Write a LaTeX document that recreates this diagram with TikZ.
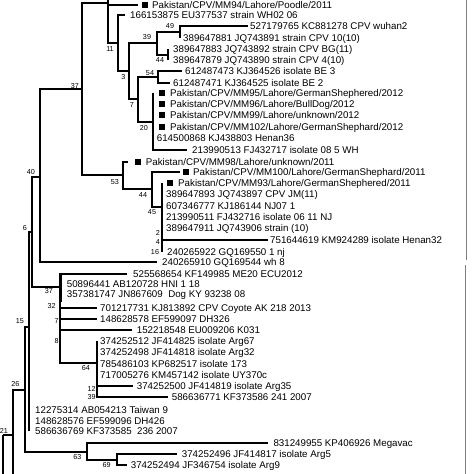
\documentclass[tikz,border=0pt]{standalone}
\usepackage{fontspec}
\setmainfont{Liberation Sans}
\usetikzlibrary{calc}
\newcommand\lf[6]{%
  \coordinate (#1) at (#3,#4);
  \draw[br] (#2) |- (#1);
  \node[tx] (#1t) at (#5,#4+3.5) {#6};}
\newcommand\lfs[7]{%
  \coordinate (#1) at (#3,#4);
  \draw[br] (#2) |- (#1);
  \node[sqn] (#1s) at (#5+3,#4) {};
  \node[tx] (#1t) at (#6,#4+3.5) {#7};}
\newcommand\bsl[4]{\node[bs] (#1) at (#2,#3+2.5) {#4};}
\begin{document}
\begin{tikzpicture}[x=1pt,y=-1pt,
  br/.style={line width=2pt},
  tx/.style={anchor=base west, inner sep=0pt, font=\fontsize{9.75}{11}\selectfont},
  bs/.style={anchor=base, inner sep=0pt, font=\fontsize{7.2}{8}\selectfont},
  sqn/.style={fill=black, inner sep=0pt, minimum size=6pt, rectangle}]
\useasboundingbox (0,0) rectangle (474,474);
\fill[white] (0,0) rectangle (474,474);
\clip (0,0) rectangle (474,474);
% internal nodes
\coordinate (r) at (3.3,435);
\coordinate (n21) at (13.3,435);
\coordinate (n26) at (25,390);
\coordinate (n15) at (29,326.7);
\coordinate (n6) at (32,232);
\coordinate (n40) at (40,177);
\coordinate (n37a) at (82,89);
\coordinate (nA) at (108,3);
\coordinate (nB) at (118,42.7);
\coordinate (nC) at (129,70.7);
\coordinate (n39) at (157,42.7);
\coordinate (n49) at (180,31.7);
\coordinate (n44a) at (168,55);
\coordinate (n7) at (138,99);
\coordinate (n54) at (158,76.7);
\coordinate (n20) at (153,121.7);
\coordinate (n53) at (123,175);
\coordinate (n44b) at (152,189);
\coordinate (n45) at (162,206.7);
\coordinate (n37b) at (60,287);
\coordinate (n64) at (96.7,363.3);
\coordinate (n63) at (87.3,451.7);
\coordinate (n69) at (116.7,459.5);
% edges between internal nodes
\draw[br] (r) -- (3.3,490);
\draw[br] (r) -- (n21);
\draw[br] (n21) -- (13.3,490);
\draw[br] (n21) |- (n26);
\draw[br] (n26) |- (n15);
\draw[br] (n26) |- (n63);
\draw[br] (n15) |- (n6);
\draw[br] (n6) |- (n40);
\draw[br] (n6) |- (n37b);
\draw[br] (n40) |- (n37a);
\draw[br] (n37a) |- (nA);
\draw[br] (nA) -- (108,-40);
\draw[br] (n37a) |- (n53);
\draw[br] (nA) |- (nB);
\draw[br] (nB) |- (nC);
\draw[br] (nC) |- (n39);
\draw[br] (nC) |- (n7);
\draw[br] (n39) |- (n49);
\draw[br] (n39) |- (n44a);
\draw[br] (n7) |- (n54);
\draw[br] (n7) |- (n20);
\draw[br] (n53) |- (n44b);
\draw[br] (n44b) |- (n45);
\draw[br] (n37b) |- (n64);
\draw[br] (61.3,274.3) -- (61.3,302);
\draw[br] (n63) |- (n69);
% leaves
\lfs{l1}{nA}{138}{4.7}{142}{152}{Pakistan/CPV/MM94/Lahore/Poodle/2011}
\lf{l2}{nB}{125}{14.7}{130}{166153875 EU377537 strain WH02 06}
\lf{l3}{n49}{248}{25.7}{250}{527179765 KC881278 CPV wuhan2}
\lf{l4}{n49}{180}{37.7}{183}{389647881 JQ743891 strain CPV 10(10)}
\lf{l5}{n44a}{168}{48.7}{173}{389647883 JQ743892 strain CPV BG(11)}
\lf{l6}{n44a}{168}{60}{173}{389647879 JQ743890 strain CPV 4(10)}
\lf{l7}{n54}{182}{70.7}{185}{612487473 KJ364526 isolate BE 3}
\lf{l8}{n54}{170}{83.3}{173}{612487471 KJ364525 isolate BE 2}
\lfs{l9}{n20}{153}{93.3}{159}{170}{Pakistan/CPV/MM95/Lahore/GermanShephered/2012}
\lfs{l10}{n20}{153}{104.3}{159}{170}{Pakistan/CPV/MM96/Lahore/BullDog/2012}
\lfs{l11}{n20}{153}{115}{159}{170}{Pakistan/CPV/MM99/Lahore/unknown/2012}
\lfs{l12}{n20}{153}{126.7}{159}{170}{Pakistan/CPV/MM102/Lahore/GermanShephard/2012}
\lf{l13}{n20}{153}{138.3}{156.7}{614500868 KJ438803 Henan36}
\lf{l14}{n20}{187}{150}{192}{213990513 FJ432717 isolate 08 5 WH}
\lfs{l15}{n53}{128}{161.7}{135}{145.7}{Pakistan/CPV/MM98/Lahore/unknown/2011}
\lfs{l16}{n44b}{180}{171.7}{183}{193}{Pakistan/CPV/MM100/Lahore/GermanShephard/2011}
\lfs{l17}{n45}{162}{183.3}{167}{178}{Pakistan/CPV/MM93/Lahore/GermanShephered/2011}
\lf{l18}{n45}{162}{194.3}{166}{389647893 JQ743897 CPV JM(11)}
\lf{l19}{n45}{162}{206}{166}{607346777 KJ186144 NJ07 1}
\lf{l20}{n45}{162}{217.3}{166}{213990511 FJ432716 isolate 06 11 NJ}
\lf{l21}{n45}{162}{228.3}{166}{389647911 JQ743906 strain (10)}
\lf{l22}{n45}{268}{240}{270}{751644619 KM924289 isolate Henan32}
\lf{l23}{n45}{162}{251.7}{167}{240265922 GQ169550 1 nj}
\lf{l24}{n40}{157}{262.3}{162}{240265910 GQ169544 wh 8}
\lf{l25}{n37b}{127}{274.3}{133}{525568654 KF149985 ME20 ECU2012}
\lf{l26}{n37b}{60}{284}{66.7}{50896441 AB120728 HNI 1 18}
\lf{l27}{n37b}{60}{294}{66.7}{357381747 JN867609\ \ Dog KY 93238 08}
\lf{l28}{n37b}{96.7}{308.3}{100}{701217731 KJ813892 CPV Coyote AK 218 2013}
\lf{l29}{n37b}{96.7}{319.3}{100}{148628578 EF599097 DH326}
\lf{l30}{n37b}{131.7}{330}{136.7}{152218548 EU009206 K031}
\lf{l31}{n64}{96.7}{341}{100}{374252512 JF414825 isolate Arg67}
\lf{l32}{n64}{96.7}{352.3}{100}{374252498 JF414818 isolate Arg32}
\lf{l33}{n64}{96.7}{364}{100}{785486103 KP682517 isolate 173}
\lf{l34}{n64}{96.7}{375}{100}{717005276 KM457142 isolate UY370c}
\lf{l35}{n64}{132.7}{386}{136.7}{374252500 JF414819 isolate Arg35}
\lf{l36}{n64}{168.3}{397.3}{171.7}{586636771 KF373586 241 2007}
\lf{l37}{n15}{29}{410}{35}{12275314 AB054213 Taiwan 9}
\lf{l38}{n15}{29}{420.7}{35}{148628576 EF599096 DH426}
\lf{l39}{n15}{29}{430.7}{35}{586636769 KF373585\ \ 236 2007}
\lf{l40}{n63}{268.3}{443.3}{273.3}{831249955 KP406926 Megavac}
\lf{l41}{n69}{176.7}{454}{181.7}{374252496 JF414817 isolate Arg5}
\lf{l42}{n69}{126.7}{465}{130.7}{374252494 JF346754 isolate Arg9}
% bootstrap labels
\bsl{b1}{75}{86}{37}
\bsl{b2}{110}{49.3}{11}
\bsl{b3}{123.3}{77.3}{3}
\bsl{b4}{147}{37}{39}
\bsl{b5}{170}{25.7}{49}
\bsl{b6}{160}{60}{44}
\bsl{b7}{150}{73.3}{54}
\bsl{b8}{132}{105}{7}
\bsl{b9}{144}{128}{20}
\bsl{b10}{30.8}{171.7}{40}
\bsl{b11}{115}{181.7}{53}
\bsl{b12}{143}{195}{44}
\bsl{b13}{152}{211.7}{45}
\bsl{b14}{158}{233.3}{2}
\bsl{b15}{158}{242.3}{4}
\bsl{b16}{155}{251.7}{16}
\bsl{b17}{25}{227.7}{6}
\bsl{b18}{49}{290.7}{37}
\bsl{b19}{51.7}{306}{32}
\bsl{b20}{56.7}{320.7}{7}
\bsl{b21}{56.7}{340.7}{8}
\bsl{b22}{20}{321}{15}
\bsl{b23}{86}{368.3}{64}
\bsl{b24}{91.7}{389.3}{12}
\bsl{b25}{91.7}{396.7}{39}
\bsl{b26}{15.5}{384.3}{26}
\bsl{b27}{4}{430.5}{21}
\bsl{b28}{77.3}{457.3}{63}
\bsl{b29}{106.7}{465}{69}
% frame lines on the right
\draw[gray, line width=0.8pt] (466,0) -- (466,260);
\draw[gray, line width=0.8pt] (465,265) -- (465,474);
\end{tikzpicture}
\end{document}
